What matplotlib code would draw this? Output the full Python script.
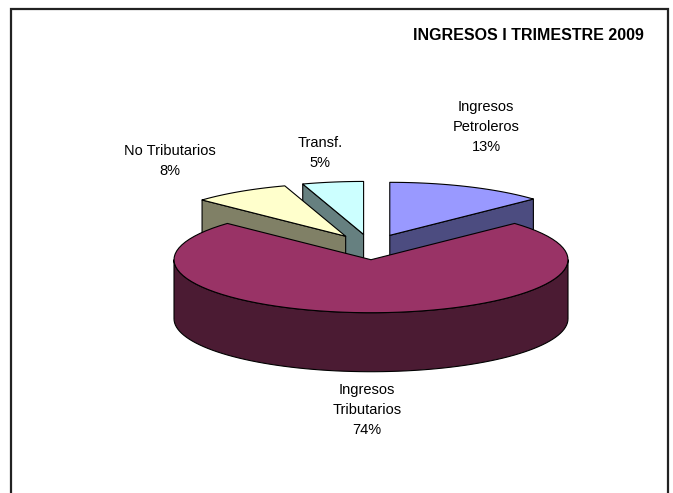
import numpy as np
import matplotlib.pyplot as plt
from matplotlib.patches import Polygon

plt.rcParams['font.family'] = ['Liberation Sans', 'DejaVu Sans']

# data
labels = ['Ingresos\nPetroleros', 'Ingresos\nTributarios', 'No Tributarios', 'Transf.']
values = [13, 74, 8, 5]
top_colors = ['#9999FF', '#993366', '#FFFFCC', '#CCFFFF']
side_colors = ['#4C4C80', '#4B1B33', '#808066', '#668080']
label_pos = [(486, 127), (367, 410), (170, 161), (320, 153)]

# pie geometry in pixels
cx, cy = 371, 247
rx, ry = 197, 53
depth = 59
explode = 0.24

fig = plt.figure(figsize=(6.73, 4.93), dpi=100)
ax = fig.add_axes([0, 0, 1, 1])
ax.set_xlim(0, 673)
ax.set_ylim(493, 0)
ax.axis('off')

fracs = np.array(values) / sum(values)
ends = np.cumsum(fracs) * 360
starts = ends - fracs * 360


def arc(t1, t2, ox, oy, dz=0):
    t = np.radians(np.linspace(t1, t2, 80))
    return np.column_stack([cx + ox + rx * np.sin(t), cy + oy - ry * np.cos(t) + dz])


def add(pts, color):
    ax.add_patch(Polygon(pts, closed=True, facecolor=color, edgecolor='black',
                         linewidth=0.8, joinstyle='round'))


slices = []
for i in range(len(values)):
    mid = np.radians((starts[i] + ends[i]) / 2)
    ox = rx * explode * np.sin(mid)
    oy = -ry * explode * np.cos(mid)
    slices.append((oy, i, ox))

# back to front
for oy, i, ox in sorted(slices):
    s, e = starts[i], ends[i]
    c = np.array([cx + ox, cy + oy])
    # radial faces
    for t, sign in ((s, -1), (e, 1)):
        if sign * np.sin(np.radians(t)) > 1e-6:
            edge = arc(t, t, ox, oy)[0]
            add([c, edge, edge + [0, depth], c + [0, depth]], side_colors[i])
    # outer wall
    a1, a2 = max(s, 90), min(e, 270)
    if a2 > a1:
        top = arc(a1, a2, ox, oy)
        bot = arc(a1, a2, ox, oy, depth)[::-1]
        add(np.vstack([top, bot]), side_colors[i])
    # top surface
    add(np.vstack([c, arc(s, e, ox, oy)]), top_colors[i])

for i in range(len(values)):
    ax.text(label_pos[i][0], label_pos[i][1], f'{labels[i]}\n{values[i]}%',
            ha='center', va='center', fontsize=10.5, linespacing=1.55)

ax.text(528, 35, 'INGRESOS I TRIMESTRE 2009', ha='center', va='center',
        fontsize=11.5, fontweight='bold')

# chart frame
ax.plot([11, 11, 668, 668], [493, 9, 9, 493], color='#222222', linewidth=1.6,
        solid_joinstyle='miter')

fig.savefig('out.png', dpi=100)
